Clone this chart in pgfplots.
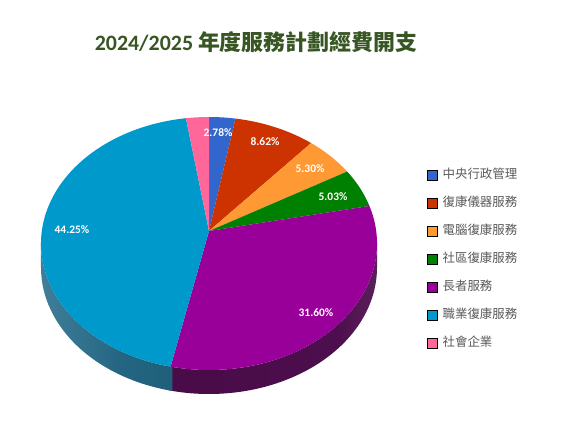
\documentclass[border=0pt]{standalone}
\usepackage{pgfplots}
\pgfplotsset{compat=1.18}
\usepackage{pgfplotstable}
\usepackage{fontspec}
\setmainfont{Carlito}
\newfontfamily\cjk{Noto Sans CJK TC}

\definecolor{titlegreen}{HTML}{375623}
\definecolor{legendgray}{HTML}{595959}
\definecolor{c0}{HTML}{3366CC}
\definecolor{c1}{HTML}{CC3300}
\definecolor{c2}{HTML}{FF9933}
\definecolor{c3}{HTML}{008000}
\definecolor{c4}{HTML}{990099}
\definecolor{c5}{HTML}{0099CC}
\definecolor{c6}{HTML}{FF6699}
% side (thickness) shades: left, middle, right
\colorlet{s0L}{c0!55!black}\colorlet{s0M}{c0!55!black}\colorlet{s0R}{c0!70!black}
\colorlet{s1L}{c1!55!black}\colorlet{s1M}{c1!55!black}\colorlet{s1R}{c1!70!black}
\colorlet{s2L}{c2!55!black}\colorlet{s2M}{c2!55!black}\colorlet{s2R}{c2!70!black}
\colorlet{s3L}{c3!55!black}\colorlet{s3M}{c3!55!black}\colorlet{s3R}{c3!70!black}
\definecolor{s4L}{RGB}{70,10,70}\definecolor{s4M}{RGB}{76,14,76}\definecolor{s4R}{RGB}{125,78,125}
\definecolor{s5L}{RGB}{88,146,172}\definecolor{s5M}{RGB}{36,102,130}\definecolor{s5R}{RGB}{24,86,112}
\colorlet{s6L}{c6!55!black}\colorlet{s6M}{c6!55!black}\colorlet{s6R}{c6!70!black}

\pgfdeclarehorizontalshading{side0}{100bp}{color(0bp)=(s0L); color(50bp)=(s0M); color(100bp)=(s0R)}
\pgfdeclarehorizontalshading{side1}{100bp}{color(0bp)=(s1L); color(50bp)=(s1M); color(100bp)=(s1R)}
\pgfdeclarehorizontalshading{side2}{100bp}{color(0bp)=(s2L); color(50bp)=(s2M); color(100bp)=(s2R)}
\pgfdeclarehorizontalshading{side3}{100bp}{color(0bp)=(s3L); color(50bp)=(s3M); color(100bp)=(s3R)}
\pgfdeclarehorizontalshading{side4}{100bp}{color(0bp)=(s4L); color(65bp)=(s4M); color(100bp)=(s4R)}
\pgfdeclarehorizontalshading{side5}{100bp}{color(0bp)=(s5L); color(55bp)=(s5M); color(100bp)=(s5R)}
\pgfdeclarehorizontalshading{side6}{100bp}{color(0bp)=(s6L); color(50bp)=(s6M); color(100bp)=(s6R)}

% share in percent, and where its label sits
\pgfplotstableread{
value lx  ly
2.78  218 292
8.62  265 283
5.30  310 256
5.03  333 228
31.60 316 112
44.25 72  195
2.42  0   0
}\piedata

% pie geometry in px, y up
\def\ecx{209}\def\ecy{181.5}\def\erx{168}\def\ery{126.5}
\def\pcy{194}\def\depth{24}

% angle (clockwise from top) -> ellipse parameter \pP, with a bit of perspective
\newcommand\pieangle[1]{%
  \pgfmathsetmacro\pd{1+0.0989*cos(#1)}%
  \pgfmathsetmacro\pX{167.2*sin(#1)/\pd/\erx}%
  \pgfmathsetmacro\pY{(\pcy-\ecy+125.3*cos(#1)/\pd)/\ery}%
  \pgfmathsetmacro\pt{atan2(\pX,\pY)}%
  \pgfmathsetmacro\pt{\pt+360*round((#1-\pt)/360)}%
  \pgfmathsetmacro\pP{90-\pt}}

\begin{document}
\begin{tikzpicture}
\gdef\topcmds{}\gdef\sidecmds{}
\def\cum{0}
\pgfplotsforeachungrouped \i in {0,...,6}{%
  \pgfplotstablegetelem{\i}{value}\of\piedata
  \pgfmathsetmacro\ta{3.6*\cum}%
  \pgfmathsetmacro\cum{\cum+\pgfplotsretval}%
  \pgfmathsetmacro\tb{3.6*\cum}%
  \pieangle{\ta}\let\pa\pP
  \pieangle{\tb}\let\pb\pP
  \pgfmathsetmacro\xa{\ecx+\erx*cos(\pa)}%
  \pgfmathsetmacro\ya{\ecy+\ery*sin(\pa)}%
  \xdef\topcmds{\unexpanded\expandafter{\topcmds}%
    \noexpand\fill[c\i] (axis cs:\ecx,\pcy) -- (axis cs:\xa,\ya)
      arc[start angle=\pa, end angle=\pb, x radius=\erx bp, y radius=\ery bp] -- cycle;}%
  \pgfmathsetmacro\sa{min(\pa+0.6,0)}%
  \pgfmathsetmacro\sb{max(\pb-0.6,-180)}%
  \ifdim\sa pt>\sb pt
    \pgfmathsetmacro\xs{\ecx+\erx*cos(\sa)}%
    \pgfmathsetmacro\ys{\ecy+\ery*sin(\sa)}%
    \xdef\sidecmds{\unexpanded\expandafter{\sidecmds}%
      \noexpand\shade[shading=side\i] (axis cs:\xs,\ys)
        arc[start angle=\sa, end angle=\sb, x radius=\erx bp, y radius=\ery bp]
        -- ++(0,-\depth bp)
        arc[start angle=\sb, end angle=\sa, x radius=\erx bp, y radius=\ery bp] -- cycle;}%
  \fi
}
\begin{axis}[
  hide axis, clip=false,
  x=1bp, y=1bp, xmin=0, xmax=571, ymin=0, ymax=425,
  legend image code/.code={\fill[#1] (0bp,-5bp) rectangle (10bp,5bp);},
  legend cell align=left,
  legend style={at={(0.7478,0.6047)}, anchor=north west, draw=none, fill=none,
    inner sep=0pt, row sep=15bp, column sep=5bp,
    font=\cjk\fontsize{12.5}{14}\selectfont, text=legendgray,
    nodes={inner sep=0pt, text height=10bp, text depth=3bp}},
]
\path (axis cs:0,0) rectangle (axis cs:571,425);
\sidecmds
\topcmds
\addplot[forget plot, draw=none, mark=none, point meta=explicit,
  skip coords between index={6}{7},
  nodes near coords={\pgfmathprintnumber[fixed,fixed zerofill,precision=2,assume math mode=true]{\pgfplotspointmeta}\%},
  nodes near coords align=center,
  every node near coord/.append style={font=\bfseries\fontsize{11.5}{13}\selectfont, text=white, inner sep=0pt}]
  table[x=lx, y=ly, meta=value] {\piedata};
\node[anchor=base, text=titlegreen, font=\bfseries\fontsize{22}{26}\selectfont]
  at (axis cs:256,375) {2024/2025 {\cjk 年度服務計劃經費開支}};
\addlegendimage{fill=c0}\addlegendentry{中央行政管理}
\addlegendimage{fill=c1}\addlegendentry{復康儀器服務}
\addlegendimage{fill=c2}\addlegendentry{電腦復康服務}
\addlegendimage{fill=c3}\addlegendentry{社區復康服務}
\addlegendimage{fill=c4}\addlegendentry{長者服務}
\addlegendimage{fill=c5}\addlegendentry{職業復康服務}
\addlegendimage{fill=c6}\addlegendentry{社會企業}
\end{axis}
\end{tikzpicture}
\end{document}
